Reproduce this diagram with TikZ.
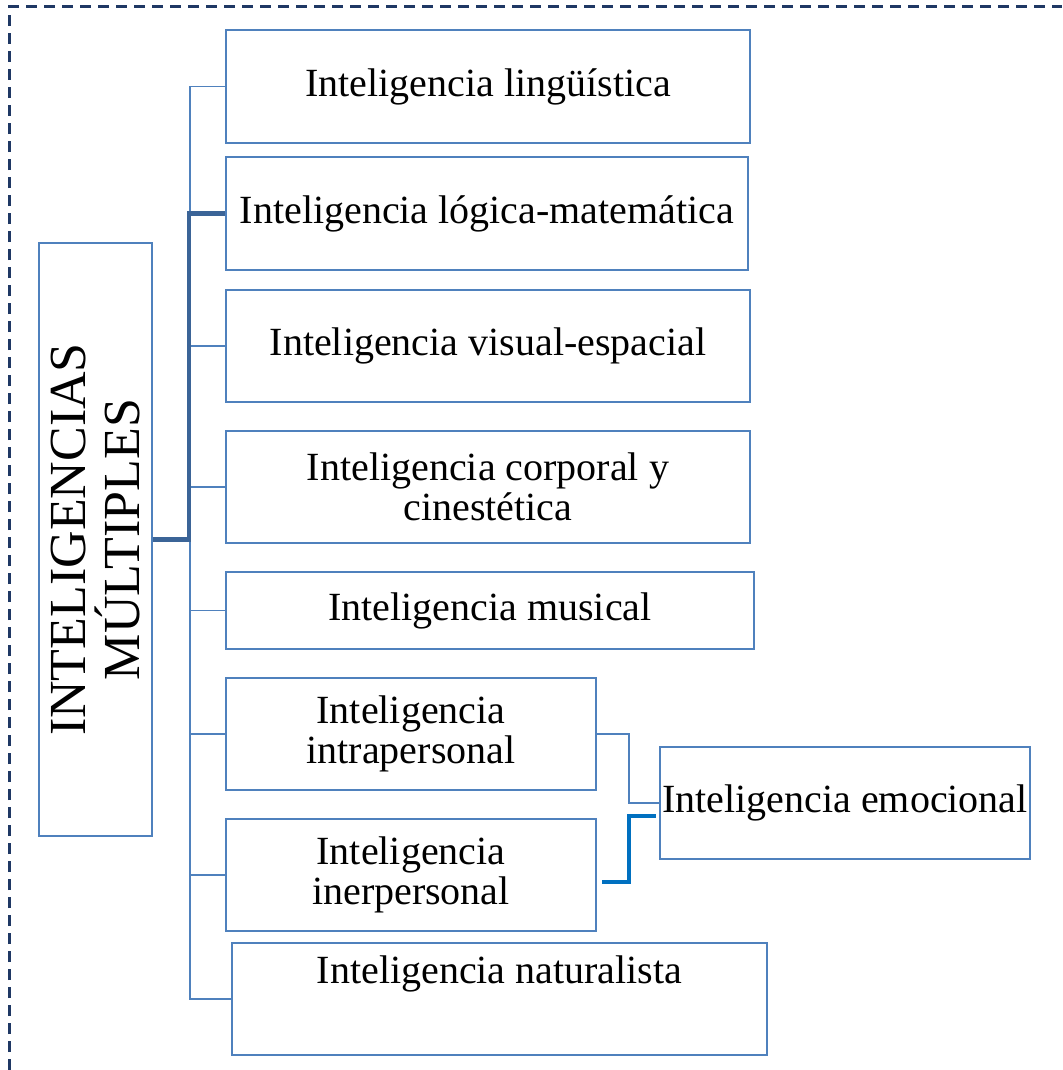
\documentclass[tikz,border=0pt]{standalone}
\usepackage{fontspec}
\setmainfont{Liberation Serif}
\definecolor{boxblue}{HTML}{4F81BD}
\definecolor{trunkblue}{HTML}{3B6497}
\definecolor{brightblue}{HTML}{0070C0}
\definecolor{navy}{HTML}{1F3864}
\begin{document}
\begin{tikzpicture}[x=0.5pt,y=-0.5pt,
  box/.style={draw=boxblue,line width=0.6pt,rectangle,inner sep=0pt,align=center,
    font=\fontsize{20}{20}\selectfont},
  thin/.style={draw=boxblue,line width=0.6pt},
  thick/.style={draw=trunkblue,line width=2.2pt},
  emo/.style={draw=brightblue,line width=1.6pt}]
\useasboundingbox (0,0) rectangle (1062,1070);
\draw[navy,line width=1.5pt,dash pattern=on 5.5pt off 3.5pt] (9,1070) -- (9,7) -- (1062,7);

\node[box,minimum width=56.5pt,minimum height=296.5pt] (main) at (95.5,539.5) {};
\node[rotate=90,align=center,font=\fontsize{26}{27}\selectfont] (maintxt) at (main.center) {INTELIGENCIAS\\MÚLTIPLES};

\node[box,minimum width=262pt,minimum height=56.5pt] (ling) at (488,86.5) {Inteligencia lingüística};
\node[box,minimum width=261pt,minimum height=56.5pt] (log) at (487,213.5) {Inteligencia lógica-matemática};
\node[box,minimum width=262pt,minimum height=56pt] (vis) at (488,346) {Inteligencia visual-espacial};
\node[box,minimum width=262pt,minimum height=56pt] (cor) at (488,487) {Inteligencia corporal y\\cinestética};
\node[box,minimum width=264pt,minimum height=38.5pt] (mus) at (490,610.5) {Inteligencia musical};
\node[box,minimum width=185pt,minimum height=56pt] (intra) at (411,734) {Inteligencia\\intrapersonal};
\node[box,minimum width=185pt,minimum height=56pt] (inter) at (411,875) {Inteligencia\\inerpersonal};
\node[box,minimum width=267.5pt,minimum height=56pt] (nat) at (499.5,999) {Inteligencia naturalista\\[9pt]\mbox{}};
\node[box,minimum width=185pt,minimum height=56pt] (emoc) at (845,803) {Inteligencia emocional};

% thin tree connectors
\coordinate (tx) at (190,0);
\draw[thin] (ling.west) -| (tx |- nat.west) -- (nat.west);
\foreach \n in {vis,cor,mus,intra,inter}
  \draw[thin] (tx |- \n.west) -- (\n.west);
% thick highlighted path
\coordinate (kx) at (189,0);
\draw[thick] (main.east) -| (kx |- log.west) -- (log.west);
% emotional connectors
\coordinate (ex) at (629,0);
\draw[thin] (intra.east) -| (ex |- emoc.west) -- (emoc.west);
\coordinate (b1) at (602,882);
\coordinate (b2) at (656,816);
\draw[emo] (b1) -| (ex |- b2) -- (b2);
\end{tikzpicture}
\end{document}
